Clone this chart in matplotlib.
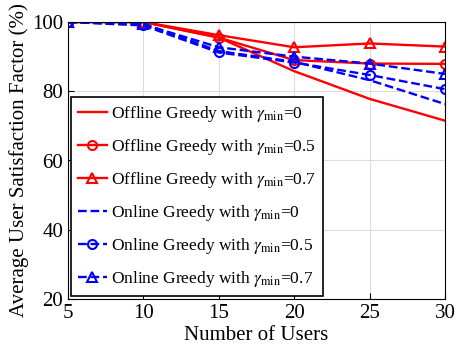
import matplotlib
matplotlib.use("Agg")
from matplotlib import pyplot as plt

plt.rcParams['font.family'] = ['Liberation Serif', 'DejaVu Serif']
plt.rcParams['mathtext.fontset'] = 'stix'

users = [5, 10, 15, 20, 25, 30]
offline_0 = [100, 100, 95.5, 85.8, 77.8, 71.5]
offline_05 = [100, 100, 95.5, 89.0, 88.0, 87.9]
offline_07 = [100, 100, 96.2, 92.7, 93.8, 92.9]
online_0 = [100, 99.5, 91.6, 88.5, 83.2, 76.3]
online_05 = [100, 99.0, 91.2, 88.3, 84.7, 80.6]
online_07 = [100, 99.3, 92.7, 90.0, 88.0, 85.0]

fig = plt.figure(figsize=(4.62, 3.6), dpi=100)
ax = fig.add_axes([68/462, 1-299/360, (445-68)/462, (299-22)/360])

g = r"$\gamma_{\rm min}$"
ax.plot(users, offline_0, '-', color='red', lw=1.7, label=f"Offline Greedy with {g}=0")
ax.plot(users, offline_05, '-o', color='red', lw=1.7, ms=6.5, mfc='none', mew=1.5, label=f"Offline Greedy with {g}=0.5")
ax.plot(users, offline_07, '-^', color='red', lw=1.7, ms=7.5, mfc='none', mew=1.5, label=f"Offline Greedy with {g}=0.7")
ax.plot(users, online_0, '--', color='blue', lw=1.7, label=f"Online Greedy with {g}=0")
ax.plot(users, online_05, '--o', color='blue', lw=1.7, ms=6.5, mfc='none', mew=1.5, label=f"Online Greedy with {g}=0.5")
ax.plot(users, online_07, '--^', color='blue', lw=1.7, ms=7.5, mfc='none', mew=1.5, label=f"Online Greedy with {g}=0.7")

ax.set_xlim(5, 30)
ax.set_ylim(20, 100)
ax.set_xticks(users)
ax.set_yticks([20, 40, 60, 80, 100])
ax.grid(True, color='#dddddd', lw=0.8)
ax.tick_params(labelsize=15, direction='in', length=4)
ax.set_xlabel("Number of Users", fontsize=15, labelpad=2)
ax.set_ylabel("Average User Satisfaction Factor (%)", fontsize=15, labelpad=2)

leg = ax.legend(loc='lower left', fontsize=12.5, fancybox=False, framealpha=1,
                edgecolor='black', handlelength=1.7, handletextpad=0.2,
                borderaxespad=0.15, labelspacing=0.75)
leg.get_frame().set_linewidth(1.2)

fig.savefig("out.png", dpi=100)
